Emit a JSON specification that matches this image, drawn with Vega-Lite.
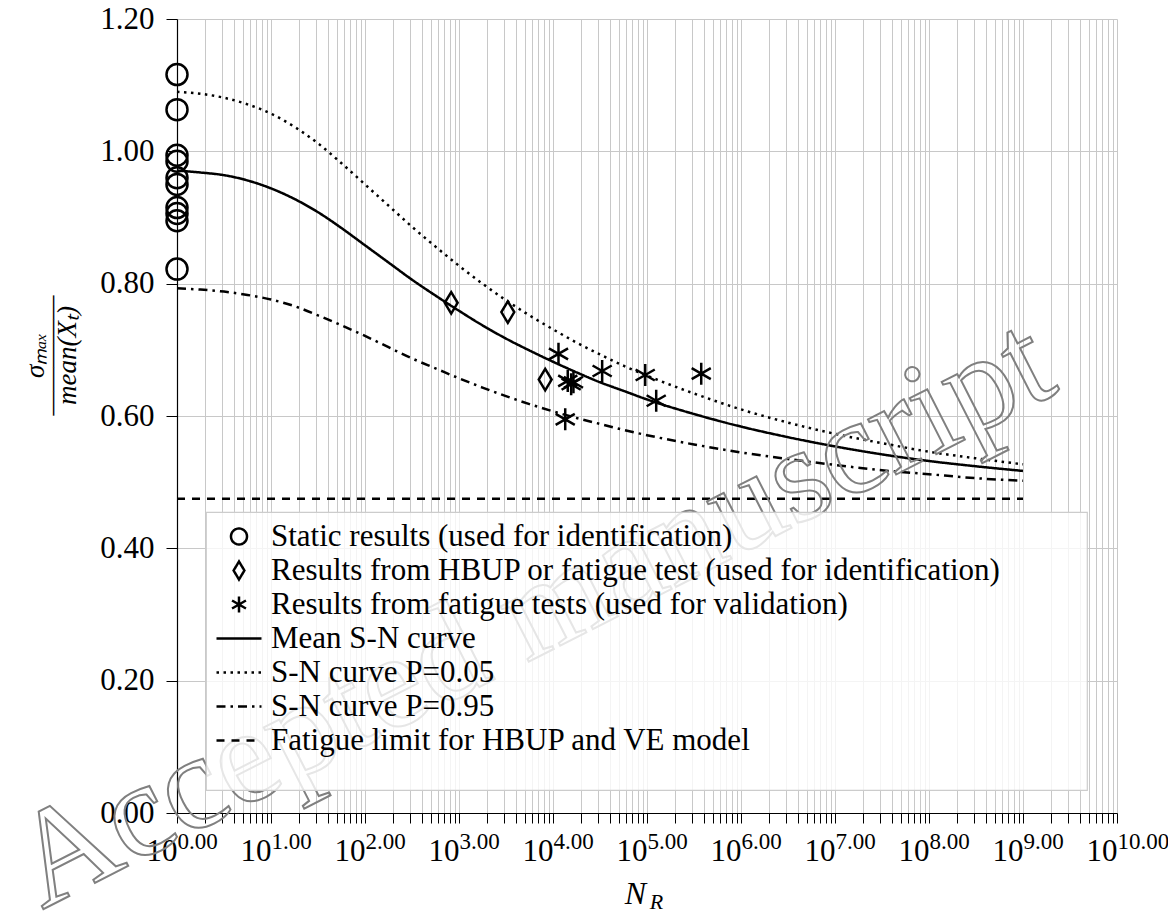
{
"$schema": "https://vega.github.io/schema/vega-lite/v6.json",
"width": 940, "height": 794,
"autosize": {"type": "none"},
"padding": {"left": 177, "top": 19, "right": 51, "bottom": 100},
"background": "white",
"config": {
  "font": "Liberation Serif",
  "view": {"stroke": null},
  "legend": {"padding": 9, "fillColor": "rgba(255,255,255,0.8)", "strokeColor": "#cccccc", "strokeWidth": 1.2, "cornerRadius": 0, "symbolSize": 2025, "clipHeight": 31, "rowPadding": 2, "labelOffset": 8, "labelFont": "Liberation Serif", "labelFontSize": 31, "labelColor": "black", "labelLimit": 1200, "symbolStrokeColor": "black", "symbolStrokeWidth": 2.5, "symbolFillColor": "transparent"}
},
"datasets": {
  "curves": [
    {"s":"Mean S-N curve","N":1,"y":0.971},{"s":"Mean S-N curve","N":1.778,"y":0.968},{"s":"Mean S-N curve","N":3.162,"y":0.964},{"s":"Mean S-N curve","N":5.623,"y":0.956},{"s":"Mean S-N curve","N":10,"y":0.944},{"s":"Mean S-N curve","N":17.78,"y":0.928},{"s":"Mean S-N curve","N":31.62,"y":0.908},{"s":"Mean S-N curve","N":56.23,"y":0.884},{"s":"Mean S-N curve","N":100,"y":0.858},{"s":"Mean S-N curve","N":177.8,"y":0.832},{"s":"Mean S-N curve","N":316.2,"y":0.806},{"s":"Mean S-N curve","N":562.3,"y":0.782},{"s":"Mean S-N curve","N":1000,"y":0.759},{"s":"Mean S-N curve","N":1778,"y":0.737},{"s":"Mean S-N curve","N":3162,"y":0.717},{"s":"Mean S-N curve","N":5623,"y":0.699},{"s":"Mean S-N curve","N":10000,"y":0.682},{"s":"Mean S-N curve","N":17783,"y":0.666},{"s":"Mean S-N curve","N":31623,"y":0.651},{"s":"Mean S-N curve","N":56234,"y":0.638},{"s":"Mean S-N curve","N":100000,"y":0.625},{"s":"Mean S-N curve","N":316228,"y":0.603},{"s":"Mean S-N curve","N":1000000,"y":0.584},{"s":"Mean S-N curve","N":3162278,"y":0.568},{"s":"Mean S-N curve","N":10000000,"y":0.554},{"s":"Mean S-N curve","N":31622777,"y":0.542},{"s":"Mean S-N curve","N":100000000,"y":0.532},{"s":"Mean S-N curve","N":316227766,"y":0.524},{"s":"Mean S-N curve","N":1000000000,"y":0.517},
    {"s":"S-N curve P=0.05","N":1,"y":1.090},{"s":"S-N curve P=0.05","N":1.778,"y":1.087},{"s":"S-N curve P=0.05","N":3.162,"y":1.081},{"s":"S-N curve P=0.05","N":5.623,"y":1.071},{"s":"S-N curve P=0.05","N":10,"y":1.057},{"s":"S-N curve P=0.05","N":17.78,"y":1.037},{"s":"S-N curve P=0.05","N":31.62,"y":1.012},{"s":"S-N curve P=0.05","N":56.23,"y":0.982},{"s":"S-N curve P=0.05","N":100,"y":0.950},{"s":"S-N curve P=0.05","N":177.8,"y":0.918},{"s":"S-N curve P=0.05","N":316.2,"y":0.886},{"s":"S-N curve P=0.05","N":562.3,"y":0.856},{"s":"S-N curve P=0.05","N":1000,"y":0.827},{"s":"S-N curve P=0.05","N":1778,"y":0.800},{"s":"S-N curve P=0.05","N":3162,"y":0.775},{"s":"S-N curve P=0.05","N":5623,"y":0.752},{"s":"S-N curve P=0.05","N":10000,"y":0.731},{"s":"S-N curve P=0.05","N":17783,"y":0.711},{"s":"S-N curve P=0.05","N":31623,"y":0.693},{"s":"S-N curve P=0.05","N":56234,"y":0.676},{"s":"S-N curve P=0.05","N":100000,"y":0.661},{"s":"S-N curve P=0.05","N":316228,"y":0.634},{"s":"S-N curve P=0.05","N":1000000,"y":0.610},{"s":"S-N curve P=0.05","N":3162278,"y":0.590},{"s":"S-N curve P=0.05","N":10000000,"y":0.573},{"s":"S-N curve P=0.05","N":31622777,"y":0.559},{"s":"S-N curve P=0.05","N":100000000,"y":0.546},{"s":"S-N curve P=0.05","N":316227766,"y":0.536},{"s":"S-N curve P=0.05","N":1000000000,"y":0.527},
    {"s":"S-N curve P=0.95","N":1,"y":0.793},{"s":"S-N curve P=0.95","N":1.778,"y":0.791},{"s":"S-N curve P=0.95","N":3.162,"y":0.788},{"s":"S-N curve P=0.95","N":5.623,"y":0.783},{"s":"S-N curve P=0.95","N":10,"y":0.776},{"s":"S-N curve P=0.95","N":17.78,"y":0.766},{"s":"S-N curve P=0.95","N":31.62,"y":0.752},{"s":"S-N curve P=0.95","N":56.23,"y":0.737},{"s":"S-N curve P=0.95","N":100,"y":0.721},{"s":"S-N curve P=0.95","N":177.8,"y":0.704},{"s":"S-N curve P=0.95","N":316.2,"y":0.687},{"s":"S-N curve P=0.95","N":562.3,"y":0.672},{"s":"S-N curve P=0.95","N":1000,"y":0.657},{"s":"S-N curve P=0.95","N":1778,"y":0.643},{"s":"S-N curve P=0.95","N":3162,"y":0.630},{"s":"S-N curve P=0.95","N":5623,"y":0.618},{"s":"S-N curve P=0.95","N":10000,"y":0.607},{"s":"S-N curve P=0.95","N":17783,"y":0.597},{"s":"S-N curve P=0.95","N":31623,"y":0.588},{"s":"S-N curve P=0.95","N":56234,"y":0.579},{"s":"S-N curve P=0.95","N":100000,"y":0.571},{"s":"S-N curve P=0.95","N":316228,"y":0.557},{"s":"S-N curve P=0.95","N":1000000,"y":0.545},{"s":"S-N curve P=0.95","N":3162278,"y":0.535},{"s":"S-N curve P=0.95","N":10000000,"y":0.526},{"s":"S-N curve P=0.95","N":31622777,"y":0.518},{"s":"S-N curve P=0.95","N":100000000,"y":0.512},{"s":"S-N curve P=0.95","N":316227766,"y":0.506},{"s":"S-N curve P=0.95","N":1000000000,"y":0.502},
    {"s":"Fatigue limit for HBUP and VE model","N":1,"y":0.475},{"s":"Fatigue limit for HBUP and VE model","N":1000000000,"y":0.475}
  ],
  "pts": [
    {"s":"Static results (used for identification)","N":1,"y":1.116},{"s":"Static results (used for identification)","N":1,"y":1.063},{"s":"Static results (used for identification)","N":1,"y":0.994},{"s":"Static results (used for identification)","N":1,"y":0.985},{"s":"Static results (used for identification)","N":1,"y":0.960},{"s":"Static results (used for identification)","N":1,"y":0.950},{"s":"Static results (used for identification)","N":1,"y":0.915},{"s":"Static results (used for identification)","N":1,"y":0.906},{"s":"Static results (used for identification)","N":1,"y":0.895},{"s":"Static results (used for identification)","N":1,"y":0.822},
    {"s":"Results from HBUP or fatigue test (used for identification)","N":826,"y":0.771},{"s":"Results from HBUP or fatigue test (used for identification)","N":3306,"y":0.757},{"s":"Results from HBUP or fatigue test (used for identification)","N":8260,"y":0.655},
    {"s":"Results from fatigue tests (used for validation)","N":11440,"y":0.694},{"s":"Results from fatigue tests (used for validation)","N":13490,"y":0.595},{"s":"Results from fatigue tests (used for validation)","N":14350,"y":0.653},{"s":"Results from fatigue tests (used for validation)","N":15600,"y":0.648},{"s":"Results from fatigue tests (used for validation)","N":16500,"y":0.651},{"s":"Results from fatigue tests (used for validation)","N":33340,"y":0.668},{"s":"Results from fatigue tests (used for validation)","N":95700,"y":0.662},{"s":"Results from fatigue tests (used for validation)","N":125300,"y":0.623},{"s":"Results from fatigue tests (used for validation)","N":377500,"y":0.664}
  ],
  "wm": [{"t": "Accepted manuscript", "N": 9640, "y": 0.246}]
},
"encoding": {
  "y": {"field": "y", "type": "quantitative", "scale": {"domain": [0, 1.2], "nice": false, "zero": false},
    "axis": {"values": [0, 0.2, 0.4, 0.6, 0.8, 1.0, 1.2], "format": ".2f", "grid": true, "gridColor": "#c8c8c8", "gridWidth": 1,
      "tickSize": 11, "tickColor": "black", "domainColor": "black", "domainWidth": 1.2,
      "labelFont": "Liberation Serif", "labelFontSize": 31, "labelPadding": 12, "labelColor": "black", "labelBaseline": "middle",
      "title": ["σₘₐₓ", "—————", "mean(Xₜ)"], "titleFont": "Liberation Serif", "titleFontSize": 27, "titleFontStyle": "italic", "titleFontWeight": "normal", "titleColor": "black",
      "titleAngle": 270, "titleX": -142, "titleY": 336, "titleAlign": "center", "titleBaseline": "middle", "titleLineHeight": 16
    }
  }
},
"layer": [
  {
    "data": {"name": "curves"},
    "mark": {"type": "line", "strokeWidth": 2.5, "color": "black", "interpolate": "monotone"},
    "encoding": {
      "x": {"field": "N", "type": "quantitative", "scale": {"type": "log", "domain": [1, 10000000000], "nice": false},
        "axis": {"orient": "bottom",
          "values": [1,2,3,4,5,6,7,8,9,10,20,30,40,50,60,70,80,90,100,200,300,400,500,600,700,800,900,1000,2000,3000,4000,5000,6000,7000,8000,9000,10000,20000,30000,40000,50000,60000,70000,80000,90000,100000,200000,300000,400000,500000,600000,700000,800000,900000,1000000,2000000,3000000,4000000,5000000,6000000,7000000,8000000,9000000,10000000,20000000,30000000,40000000,50000000,60000000,70000000,80000000,90000000,100000000,200000000,300000000,400000000,500000000,600000000,700000000,800000000,900000000,1000000000,2000000000,3000000000,4000000000,5000000000,6000000000,7000000000,8000000000,9000000000,10000000000],
          "grid": true, "gridColor": "#c8c8c8", "gridWidth": 1,
          "tickSize": 10, "tickColor": "black", "tickWidth": 1, "domainColor": "black", "domainWidth": 1.2,
          "labelExpr": "abs(log(datum.value)/LN10 - round(log(datum.value)/LN10)) < 0.001 ? '10' : ''",
          "labelFont": "Liberation Serif", "labelAlign": "right", "labelBaseline": "alphabetic", "labelPadding": 37, "labelFontSize": 31, "labelColor": "black",
          "labelOverlap": false, "labelFlush": false, "labelBound": false,
          "title": "N", "titleFont": "Liberation Serif", "titleFontSize": 32, "titleFontStyle": "italic", "titleFontWeight": "normal", "titleColor": "black",
          "titleX": 458, "titleY": 90, "titleAlign": "center", "titleBaseline": "alphabetic",
          "encode": {
            "ticks": {"update": {"y2": {"signal": "abs(log(datum.value)/LN10 - round(log(datum.value)/LN10)) < 0.001 ? 10 : 6"}}},
            "labels": {"update": {"dx": {"signal": "datum.value > 5000000000 ? -17 : -8"}}}
          }
        }
      },
      "strokeDash": {"field": "s", "type": "nominal",
        "scale": {"domain": ["Static results (used for identification)", "Results from HBUP or fatigue test (used for identification)", "Results from fatigue tests (used for validation)", "Mean S-N curve", "S-N curve P=0.05", "S-N curve P=0.95", "Fatigue limit for HBUP and VE model"],
          "range": [[1,0],[1,0],[1,0],[1,0],[2.5,4.5],[9,5,2.5,5],[8,7]]},
        "legend": {"title": "\u2800", "titleOrient": "bottom", "titleFontSize": 20, "titlePadding": 5, "orient": "none", "legendX": 29, "legendY": 493, "labelFont": "Liberation Serif", "labelFontSize": 31,
          "labelExpr": "datum.label == 'Results from HBUP or fatigue test (used for identification)' ? datum.label + '\u00a0\u2800\u2800\u2800' : datum.label",
          "encode": {"symbols": {"update": {
            "size": {"signal": "datum.value == 'Results from HBUP or fatigue test (used for identification)' ? 324 : (datum.value == 'Static results (used for identification)' || datum.value == 'Results from fatigue tests (used for validation)') ? 256 : 2025"},
            "stroke": {"value": "black"}, "fill": {"value": "transparent"}, "strokeWidth": {"value": 2.5}}}}}
      }
    }
  },
  {
    "data": {"name": "pts"},
    "mark": {"type": "point", "filled": false, "strokeWidth": 2.5, "color": "black", "opacity": 1},
    "encoding": {
      "x": {"field": "N", "type": "quantitative",
        "axis": {"orient": "bottom", "values": [1,10,100,1000,10000,100000,1000000,10000000,100000000,1000000000,10000000000],
          "grid": false, "ticks": false, "tickSize": 0, "domain": false,
          "labelExpr": "format(log(datum.value)/LN10, '.2f')",
          "labelFont": "Liberation Serif", "labelAlign": "left", "labelBaseline": "alphabetic", "labelPadding": 35, "labelFontSize": 23, "labelColor": "black",
          "labelOverlap": false, "labelFlush": false, "labelBound": false,
          "title": "R", "titleFont": "Liberation Serif", "titleFontSize": 22, "titleFontStyle": "italic", "titleFontWeight": "normal", "titleColor": "black",
          "titleX": 479, "titleY": 95, "titleAlign": "center", "titleBaseline": "alphabetic",
          "encode": {"labels": {"update": {"dx": {"signal": "datum.value > 5000000000 ? -17 : -8"}}}}
        }
      },
      "shape": {"field": "s", "type": "nominal",
        "scale": {"domain": ["Static results (used for identification)", "Results from HBUP or fatigue test (used for identification)", "Results from fatigue tests (used for validation)", "Mean S-N curve", "S-N curve P=0.05", "S-N curve P=0.95", "Fatigue limit for HBUP and VE model"],
          "range": ["circle", "M0,-1L0.6,0L0,1L-0.6,0Z", "M0,-1L0,1M-0.87,-0.5L0.87,0.5M-0.87,0.5L0.87,-0.5", "stroke", "stroke", "stroke", "stroke"]},
        "legend": {"title": "\u2800", "titleOrient": "bottom", "titleFontSize": 20, "titlePadding": 5, "orient": "none", "legendX": 29, "legendY": 493, "labelFont": "Liberation Serif", "labelFontSize": 31,
          "labelExpr": "datum.label == 'Results from HBUP or fatigue test (used for identification)' ? datum.label + '\u00a0\u2800\u2800\u2800' : datum.label",
          "encode": {"symbols": {"update": {
            "size": {"signal": "datum.value == 'Results from HBUP or fatigue test (used for identification)' ? 324 : (datum.value == 'Static results (used for identification)' || datum.value == 'Results from fatigue tests (used for validation)') ? 256 : 2025"},
            "stroke": {"value": "black"}, "fill": {"value": "transparent"}, "strokeWidth": {"value": 2.5}}}}}
      },
      "size": {"field": "s", "type": "nominal",
        "scale": {"domain": ["Static results (used for identification)", "Results from HBUP or fatigue test (used for identification)", "Results from fatigue tests (used for validation)"], "range": [441, 484, 400]},
        "legend": null}
    }
  },
  {
    "data": {"name": "wm"},
    "mark": {"type": "text", "angle": 333, "fontSize": 135, "font": "Liberation Serif", "fill": "transparent", "stroke": "#808080", "strokeWidth": 2, "align": "center", "baseline": "alphabetic"},
    "encoding": {
      "x": {"field": "N", "type": "quantitative", "axis": null},
      "text": {"field": "t"}
    }
  }
],
"resolve": {"axis": {"x": "independent"}}
}
